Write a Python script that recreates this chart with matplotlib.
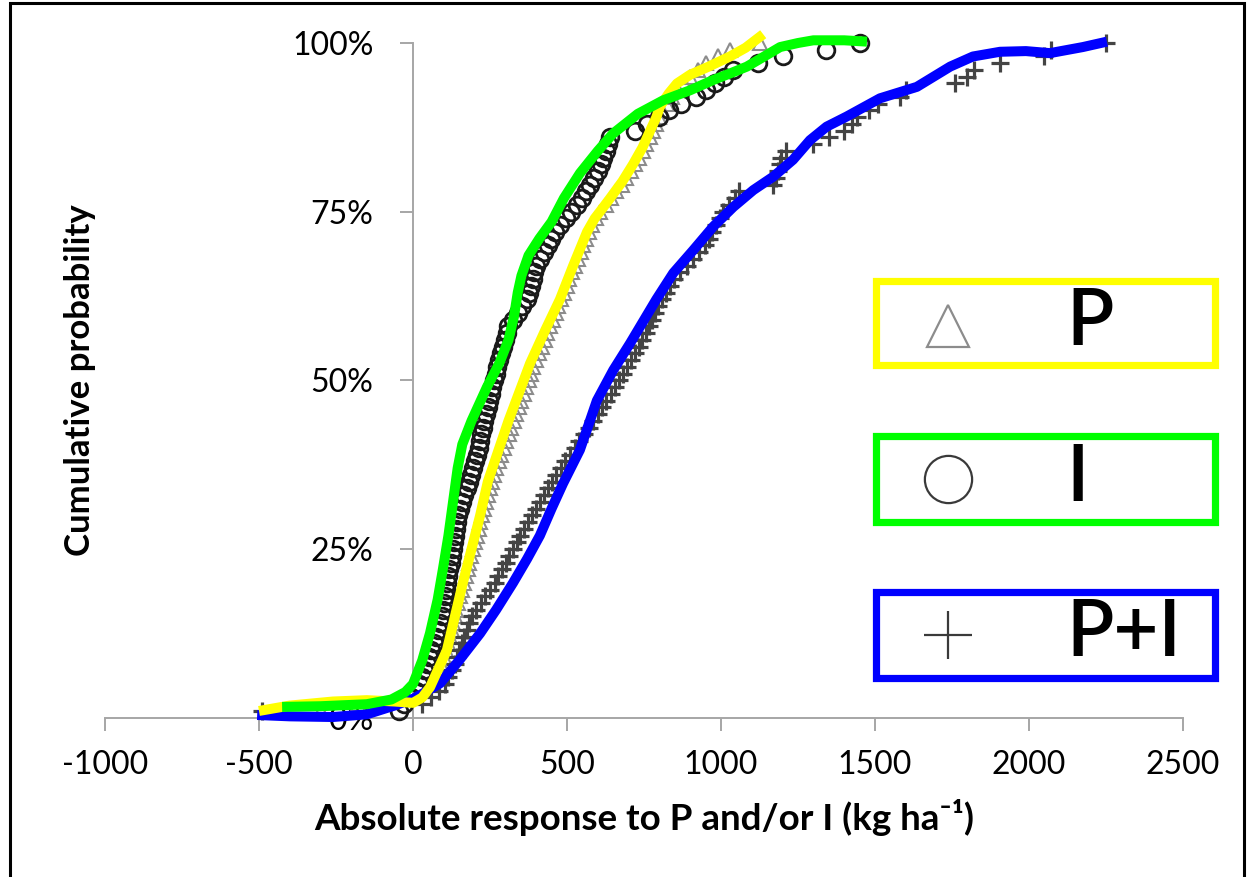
import numpy as np
import matplotlib
matplotlib.use("Agg")
import matplotlib.pyplot as plt
from matplotlib.patches import Rectangle
from matplotlib.lines import Line2D
from matplotlib.ticker import PercentFormatter

plt.rcParams['font.family'] = ['Lato', 'DejaVu Sans']
plt.rcParams['axes.unicode_minus'] = False

# observed responses (kg/ha), one value per site, already sorted
p_resp = [-300, -180, 10, 40, 60, 72, 82, 92, 100, 108,
          114, 120, 126, 131, 136, 141, 146, 152, 158, 165,
          171, 177, 183, 189, 195, 201, 207, 213, 219, 225,
          231, 237, 243, 249, 255, 263, 271, 279, 287, 295,
          303, 311, 319, 327, 335, 343, 351, 359, 367, 375,
          383, 391, 400, 409, 418, 427, 436, 445, 454, 463,
          472, 481, 490, 499, 508, 517, 526, 535, 544, 553,
          562, 571, 582, 594, 608, 625, 642, 660, 677, 693,
          708, 722, 735, 747, 758, 768, 778, 790, 800, 810,
          825, 840, 860, 880, 900, 925, 950, 990, 1030, 1127]

i_resp = [-45, -30, -5, 10, 20, 28, 36, 45, 52, 60,
          67, 74, 81, 88, 95, 99, 102, 105, 108, 112,
          115, 118, 122, 125, 129, 132, 136, 139, 142, 145,
          152, 160, 167, 174, 181, 188, 195, 201, 207, 213,
          218, 222, 227, 232, 237, 242, 247, 252, 257, 262,
          268, 274, 280, 286, 292, 298, 304, 310, 325, 340,
          355, 370, 376, 382, 388, 394, 400, 412, 425, 437,
          449, 460, 478, 496, 514, 532, 550, 562, 575, 588,
          600, 609, 618, 627, 634, 640, 720, 760, 800, 830,
          870, 920, 950, 980, 1010, 1040, 1120, 1200, 1340, 1450]

pi_resp = [-490, 30, 60, 85, 105, 115, 125, 135, 142, 150,
           158, 166, 174, 182, 190, 205, 220, 235, 250, 265,
           277, 289, 301, 313, 325, 337, 349, 361, 373, 385,
           398, 411, 424, 437, 450, 465, 480, 495, 510, 525,
           540, 555, 570, 585, 600, 614, 628, 642, 656, 670,
           683, 696, 709, 722, 735, 745, 755, 765, 775, 785,
           797, 810, 822, 835, 848, 868, 888, 908, 928, 948,
           960, 972, 984, 996, 1005, 1025, 1045, 1060, 1170, 1180,
           1185, 1190, 1195, 1210, 1300, 1350, 1400, 1425, 1440, 1480,
           1510, 1580, 1600, 1760, 1800, 1820, 1905, 2050, 2070, 2250]

# smoothed trend curves (x in kg/ha, y as cumulative fraction)
p_fit_x = [-500, -400, -260, -150, -60, 0, 30, 55, 80, 110, 162, 218, 243, 310,
           380, 430, 477, 520, 565, 590, 607, 640, 680, 714, 745, 770, 790,
           802, 830, 857, 900, 960, 1029, 1080, 1137]
p_fit_y = [0.010, 0.018, 0.024, 0.026, 0.024, 0.022, 0.030, 0.045, 0.070, 0.10,
           0.20, 0.30, 0.35, 0.44, 0.525, 0.575, 0.62, 0.67, 0.72, 0.74, 0.75,
           0.77, 0.795, 0.82, 0.845, 0.87, 0.89, 0.906, 0.925, 0.94, 0.953,
           0.965, 0.98, 0.993, 1.013]

i_fit_x = [-425, -300, -150, -70, -25, 0, 30, 55, 80, 97, 115, 130, 145, 160,
           190, 240, 280, 310, 328, 340, 352, 375, 410, 450, 490, 542, 600,
           650, 730, 812, 900, 974, 1030, 1084, 1140, 1192, 1250, 1300, 1400,
           1474]
i_fit_y = [0.016, 0.017, 0.020, 0.027, 0.038, 0.05, 0.085, 0.125, 0.175, 0.22,
           0.27, 0.32, 0.37, 0.405, 0.44, 0.49, 0.525, 0.56, 0.595, 0.63, 0.655,
           0.685, 0.71, 0.735, 0.77, 0.807, 0.84, 0.866, 0.895, 0.915, 0.93,
           0.945, 0.955, 0.965, 0.98, 0.994, 1.0, 1.004, 1.004, 1.002]

pi_fit_x = [-506, -400, -260, -150, -60, 0, 40, 88, 150, 218, 270, 325, 370,
            412, 450, 487, 542, 597, 650, 705, 790, 845, 910, 975, 1040, 1105,
            1170, 1234, 1289, 1343, 1408, 1516, 1636, 1744, 1818, 1906, 1990,
            2068, 2175, 2253]
pi_fit_y = [0.004, 0.002, 0.001, 0.005, 0.018, 0.028, 0.038, 0.051, 0.085,
            0.125, 0.16, 0.20, 0.235, 0.27, 0.31, 0.347, 0.397, 0.47, 0.515,
            0.555, 0.62, 0.659, 0.693, 0.728, 0.757, 0.782, 0.802, 0.827,
            0.856, 0.876, 0.891, 0.918, 0.935, 0.965, 0.98, 0.987, 0.988,
            0.985, 0.994, 1.002]

W, H = 1247, 877


def ecdf(vals):
    v = np.sort(np.asarray(vals, dtype=float))
    return v, np.arange(1, len(v) + 1) / len(v)


def fx(px):
    return px / W


def fy(py):
    return 1 - py / H


fig = plt.figure(figsize=(W / 100, H / 100), dpi=100)
ax = fig.add_axes([fx(105), fy(717.7), fx(1183) - fx(105), fy(43) - fy(717.7)])

grey = '#a6a6a6'
for s in ['top', 'right']:
    ax.spines[s].set_visible(False)
ax.spines['left'].set_position(('data', 0))
ax.spines['left'].set_color(grey)
ax.spines['bottom'].set_color(grey)
ax.spines['left'].set_linewidth(1.4)
ax.spines['bottom'].set_linewidth(1.4)

ax.set_xlim(-1000, 2500)
ax.set_ylim(0, 1)
ax.set_xticks(np.arange(-1000, 2501, 500))
ax.set_yticks([0, 0.25, 0.5, 0.75, 1.0])
ax.yaxis.set_major_formatter(PercentFormatter(1.0, decimals=0))
ax.tick_params(axis='x', direction='out', length=9, width=1.4, color=grey,
               labelsize=23, pad=14, labelcolor='black')
ax.tick_params(axis='y', direction='out', length=9.5, width=1.4, color=grey,
               labelsize=23, pad=19, labelcolor='black')
ax.patch.set_visible(False)

# observed points
x, y = ecdf(p_resp)
ax.plot(x, y, ls='none', marker='^', ms=10, mfc='none', mec='#8c8c8c', mew=1.5,
        zorder=3, clip_on=False)
x, y = ecdf(pi_resp)
ax.plot(x, y, ls='none', marker='+', ms=12.5, mec='#444444', mew=2.3,
        zorder=3, clip_on=False)
x, y = ecdf(i_resp)
ax.plot(x, y, ls='none', marker='o', ms=12, mfc='none', mec='#1a1a1a', mew=2.0,
        zorder=3.2, clip_on=False)

# trend curves
lw = 7.2
ax.plot(pi_fit_x, pi_fit_y, color='#0000ff', lw=lw, solid_capstyle='butt',
        solid_joinstyle='round', zorder=4, clip_on=False)
ax.plot(p_fit_x, p_fit_y, color='#ffff00', lw=lw, solid_capstyle='butt',
        solid_joinstyle='round', zorder=5, clip_on=False)
ax.plot(i_fit_x, i_fit_y, color='#00ff00', lw=lw, solid_capstyle='butt',
        solid_joinstyle='round', zorder=6, clip_on=False)

ax.set_xlabel('Absolute response to P and/or I (kg ha\u207b\u00b9)',
              fontsize=26.5, fontweight='bold', labelpad=14)
fig.text(fx(80), fy(380), 'Cumulative probability', rotation=90,
         fontsize=25, fontweight='bold', ha='center', va='center')

# separate boxed legend entries
entries = [('P', '^', '#8c8c8c', '#ffff00', 277, 369),
           ('I', 'o', '#3a3a3a', '#00ff00', 433, 525),
           ('P+I', '+', '#3a3a3a', '#0000ff', 588, 681)]
for label, mk, mcol, ecol, top, bot in entries:
    fig.add_artist(Rectangle((fx(875.5), fy(bot - 3.5)),
                             fx(1214.5) - fx(875.5), fy(top + 3.5) - fy(bot - 3.5),
                             transform=fig.transFigure, fill=False,
                             edgecolor=ecol, lw=5.2))
    cy = (top + bot) / 2
    if mk == '+':
        fig.add_artist(Line2D([fx(948)], [fy(cy)], transform=fig.transFigure,
                              marker='+', ms=34, mec=mcol, mew=1.6, ls='none'))
    else:
        fig.add_artist(Line2D([fx(948)], [fy(cy + (3 if mk == '^' else 0))],
                              transform=fig.transFigure, marker=mk,
                              ms=30 if mk == '^' else 34, mfc='none', mec=mcol,
                              mew=1.6, ls='none'))
    fig.text(fx(1066), fy(cy), label, fontsize=56, fontweight='semibold',
             ha='left', va='center', color='black')

# outer frame
fig.add_artist(Rectangle((fx(10), -0.05), fx(1244) - fx(10), fy(3) + 0.05,
                         transform=fig.transFigure, fill=False,
                         edgecolor='black', lw=2.2))

fig.savefig('out.png', dpi=100)
